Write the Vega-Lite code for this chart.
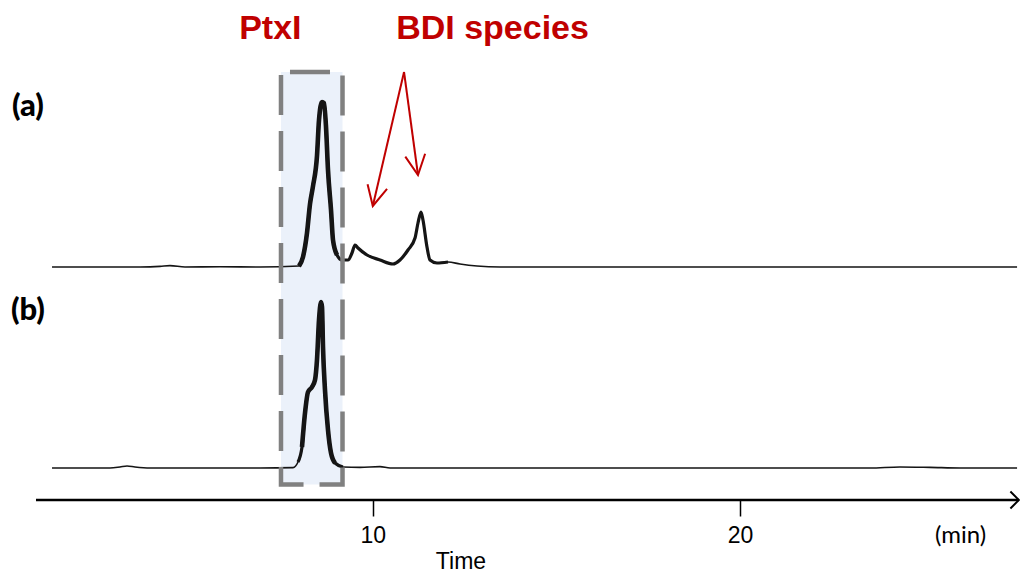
{
  "$schema": "https://vega.github.io/schema/vega-lite/v6.json",
  "width": 1020,
  "height": 575,
  "padding": 0,
  "autosize": {"type": "none"},
  "background": "white",
  "config": {"view": {"stroke": null}},
  "datasets": {
    "traces": [
      {"trace": "a", "time": 1.266, "signal": 100.5},
      {"trace": "a", "time": 2.573, "signal": 100.5},
      {"trace": "a", "time": 3.662, "signal": 100.5},
      {"trace": "a", "time": 4.206, "signal": 100.8},
      {"trace": "a", "time": 4.478, "signal": 101.2},
      {"trace": "a", "time": 4.887, "signal": 100.5},
      {"trace": "a", "time": 5.84, "signal": 100.6},
      {"trace": "a", "time": 6.929, "signal": 100.5},
      {"trace": "a", "time": 7.99, "signal": 101},
      {"trace": "a", "time": 8.099, "signal": 105.5},
      {"trace": "a", "time": 8.208, "signal": 117.5},
      {"trace": "a", "time": 8.29, "signal": 132},
      {"trace": "a", "time": 8.372, "signal": 141},
      {"trace": "a", "time": 8.48, "signal": 156},
      {"trace": "a", "time": 8.535, "signal": 174},
      {"trace": "a", "time": 8.617, "signal": 183},
      {"trace": "a", "time": 8.671, "signal": 182.5},
      {"trace": "a", "time": 8.726, "signal": 170.5},
      {"trace": "a", "time": 8.78, "signal": 149},
      {"trace": "a", "time": 8.862, "signal": 129},
      {"trace": "a", "time": 8.916, "signal": 114},
      {"trace": "a", "time": 9.025, "signal": 106.5},
      {"trace": "a", "time": 9.161, "signal": 104},
      {"trace": "a", "time": 9.324, "signal": 104},
      {"trace": "a", "time": 9.433, "signal": 107.5},
      {"trace": "a", "time": 9.515, "signal": 111.5},
      {"trace": "a", "time": 9.597, "signal": 110},
      {"trace": "a", "time": 9.842, "signal": 106.5},
      {"trace": "a", "time": 10.196, "signal": 104},
      {"trace": "a", "time": 10.55, "signal": 102},
      {"trace": "a", "time": 10.74, "signal": 104},
      {"trace": "a", "time": 10.958, "signal": 109},
      {"trace": "a", "time": 11.149, "signal": 115},
      {"trace": "a", "time": 11.23, "signal": 122.5},
      {"trace": "a", "time": 11.312, "signal": 128},
      {"trace": "a", "time": 11.366, "signal": 124},
      {"trace": "a", "time": 11.475, "signal": 110.5},
      {"trace": "a", "time": 11.557, "signal": 104},
      {"trace": "a", "time": 11.747, "signal": 102.5},
      {"trace": "a", "time": 12.047, "signal": 103},
      {"trace": "a", "time": 12.374, "signal": 102},
      {"trace": "a", "time": 12.837, "signal": 101},
      {"trace": "a", "time": 13.463, "signal": 100.5},
      {"trace": "a", "time": 18.9, "signal": 100.5},
      {"trace": "a", "time": 27.54, "signal": 100.5},
      {"trace": "b", "time": 1.266, "signal": 0},
      {"trace": "b", "time": 2.845, "signal": 0},
      {"trace": "b", "time": 3.117, "signal": 0.5},
      {"trace": "b", "time": 3.308, "signal": 1},
      {"trace": "b", "time": 3.525, "signal": 0.5},
      {"trace": "b", "time": 3.934, "signal": 0},
      {"trace": "b", "time": 6.929, "signal": 0},
      {"trace": "b", "time": 7.827, "signal": 0.2},
      {"trace": "b", "time": 7.963, "signal": 3},
      {"trace": "b", "time": 8.072, "signal": 10.5},
      {"trace": "b", "time": 8.154, "signal": 27.5},
      {"trace": "b", "time": 8.236, "signal": 38},
      {"trace": "b", "time": 8.344, "signal": 40.5},
      {"trace": "b", "time": 8.426, "signal": 44},
      {"trace": "b", "time": 8.48, "signal": 54},
      {"trace": "b", "time": 8.535, "signal": 74},
      {"trace": "b", "time": 8.59, "signal": 83},
      {"trace": "b", "time": 8.617, "signal": 80.5},
      {"trace": "b", "time": 8.644, "signal": 60.5},
      {"trace": "b", "time": 8.698, "signal": 39},
      {"trace": "b", "time": 8.78, "signal": 19},
      {"trace": "b", "time": 8.862, "signal": 7.5},
      {"trace": "b", "time": 8.971, "signal": 2.5},
      {"trace": "b", "time": 9.188, "signal": 0.5},
      {"trace": "b", "time": 9.651, "signal": 0.3},
      {"trace": "b", "time": 10.196, "signal": 0.7},
      {"trace": "b", "time": 10.47, "signal": 0},
      {"trace": "b", "time": 13.463, "signal": 0},
      {"trace": "b", "time": 23.536, "signal": 0},
      {"trace": "b", "time": 24.35, "signal": 0.5},
      {"trace": "b", "time": 25.17, "signal": 0.3},
      {"trace": "b", "time": 25.99, "signal": 0},
      {"trace": "b", "time": 27.54, "signal": 0}
    ],
    "box": [{"t1": 7.5, "t2": 9.175, "s1": -8.25, "s2": 198}],
    "timeAxis": [{"start": 0.83, "end": 27.59, "level": -16}],
    "arrows": [
      {"id": "left", "t1": 10.85, "s1": 198, "t2": 10.0, "s2": 131},
      {"id": "right", "t1": 10.85, "s1": 198, "t2": 11.23, "s2": 146.5}
    ],
    "labels": [
      {"kind": "title", "text": "PtxI", "time": 7.21, "signal": 214.5},
      {"kind": "title", "text": "BDI species", "time": 13.26, "signal": 214.5},
      {"kind": "panel", "text": "(a)", "time": 0.61, "signal": 176},
      {"kind": "panel", "text": "(b)", "time": 0.61, "signal": 74},
      {"kind": "unit", "text": "(min)", "time": 26.0, "signal": -37.5},
      {"kind": "axis", "text": "Time", "time": 12.4, "signal": -50.5}
    ]
  },
  "layer": [
    {
      "data": {"name": "box"},
      "mark": {"type": "rect", "fill": "#ebf1fa", "stroke": null},
      "encoding": {
        "x": {"field": "t1", "type": "quantitative", "scale": {"domain": [-0.15, 27.62], "nice": false, "zero": false},
          "axis": {"values": [10, 20], "domain": false, "grid": false, "ticks": true, "tickSize": 16, "tickWidth": 1.5, "tickColor": "#000000",
            "labelFont": "Liberation Sans", "labelFontSize": 23, "labelColor": "#000000", "labelPadding": 8, "title": null, "offset": -75}},
        "x2": {"field": "t2"},
        "y": {"field": "s1", "type": "quantitative", "scale": {"domain": [-53.5, 234], "nice": false, "zero": false}, "axis": null},
        "y2": {"field": "s2"}
      }
    },
    {
      "data": {"name": "traces"},
      "mark": {"type": "line", "color": "#151515", "strokeWidth": 1.6, "interpolate": "monotone"},
      "encoding": {
        "x": {"field": "time", "type": "quantitative"},
        "y": {"field": "signal", "type": "quantitative"},
        "detail": {"field": "trace"}
      }
    },
    {
      "data": {"name": "traces"},
      "transform": [{"filter": "(datum.trace == 'a' && datum.time >= 7.9 && datum.time <= 12.1) || (datum.trace == 'b' && datum.time >= 7.9 && datum.time <= 9.2)"}],
      "mark": {"type": "line", "color": "#151515", "strokeWidth": 3.2, "interpolate": "monotone"},
      "encoding": {
        "x": {"field": "time", "type": "quantitative"},
        "y": {"field": "signal", "type": "quantitative"},
        "detail": {"field": "trace"}
      }
    },
    {
      "data": {"name": "traces"},
      "transform": [{"filter": "datum.time >= 7.99 && datum.time <= 9.05"}],
      "mark": {"type": "line", "color": "#151515", "strokeWidth": 4.6, "interpolate": "monotone"},
      "encoding": {
        "x": {"field": "time", "type": "quantitative"},
        "y": {"field": "signal", "type": "quantitative"},
        "detail": {"field": "trace"}
      }
    },
    {
      "data": {"name": "box"},
      "mark": {"type": "rect", "fill": null, "fillOpacity": 0, "stroke": "#808080", "strokeWidth": 4.5, "strokeDash": [40, 16], "strokeDashOffset": 47},
      "encoding": {
        "x": {"field": "t1", "type": "quantitative"},
        "x2": {"field": "t2"},
        "y": {"field": "s2", "type": "quantitative"},
        "y2": {"field": "s1"}
      }
    },
    {
      "data": {"name": "timeAxis"},
      "mark": {"type": "rule", "color": "#000000", "strokeWidth": 2.5},
      "encoding": {
        "x": {"field": "start", "type": "quantitative"},
        "x2": {"field": "end"},
        "y": {"field": "level", "type": "quantitative"}
      }
    },
    {
      "data": {"name": "timeAxis"},
      "mark": {"type": "point", "shape": "M -1 -1 L 0 0 L -1 1", "filled": false, "stroke": "#000000", "strokeWidth": 2, "size": 289, "opacity": 1},
      "encoding": {
        "x": {"field": "end", "type": "quantitative"},
        "y": {"field": "level", "type": "quantitative"}
      }
    },
    {
      "data": {"name": "arrows"},
      "mark": {"type": "rule", "color": "#c00000", "strokeWidth": 2},
      "encoding": {
        "x": {"field": "t1", "type": "quantitative"},
        "y": {"field": "s1", "type": "quantitative"},
        "x2": {"field": "t2"},
        "y2": {"field": "s2"}
      }
    },
    {
      "data": {"name": "arrows"},
      "transform": [{"filter": "datum.id == 'left'"}],
      "mark": {"type": "point", "shape": "M -0.5 1 L 0 0 L 0.5 1", "filled": false, "stroke": "#c00000", "strokeWidth": 2, "size": 1600, "angle": 193, "opacity": 1},
      "encoding": {
        "x": {"field": "t2", "type": "quantitative"},
        "y": {"field": "s2", "type": "quantitative"}
      }
    },
    {
      "data": {"name": "arrows"},
      "transform": [{"filter": "datum.id == 'right'"}],
      "mark": {"type": "point", "shape": "M -0.5 1 L 0 0 L 0.5 1", "filled": false, "stroke": "#c00000", "strokeWidth": 2, "size": 1600, "angle": 172, "opacity": 1},
      "encoding": {
        "x": {"field": "t2", "type": "quantitative"},
        "y": {"field": "s2", "type": "quantitative"}
      }
    },
    {
      "data": {"name": "labels"},
      "transform": [{"filter": "datum.kind == 'title'"}],
      "mark": {"type": "text", "font": "Liberation Sans", "fontWeight": "bold", "fontSize": 34, "color": "#c00000", "align": "center", "baseline": "alphabetic"},
      "encoding": {
        "x": {"field": "time", "type": "quantitative"},
        "y": {"field": "signal", "type": "quantitative"},
        "text": {"field": "text"}
      }
    },
    {
      "data": {"name": "labels"},
      "transform": [{"filter": "datum.kind == 'panel'"}],
      "mark": {"type": "text", "font": "Lato", "fontWeight": 900, "fontSize": 31, "color": "#000000", "align": "center", "baseline": "alphabetic"},
      "encoding": {
        "x": {"field": "time", "type": "quantitative"},
        "y": {"field": "signal", "type": "quantitative"},
        "text": {"field": "text"}
      }
    },
    {
      "data": {"name": "labels"},
      "transform": [{"filter": "datum.kind == 'unit'"}],
      "mark": {"type": "text", "font": "Lato", "fontSize": 24, "color": "#000000", "align": "center", "baseline": "alphabetic"},
      "encoding": {
        "x": {"field": "time", "type": "quantitative"},
        "y": {"field": "signal", "type": "quantitative"},
        "text": {"field": "text"}
      }
    },
    {
      "data": {"name": "labels"},
      "transform": [{"filter": "datum.kind == 'axis'"}],
      "mark": {"type": "text", "font": "Liberation Sans", "fontSize": 23, "color": "#000000", "align": "center", "baseline": "alphabetic"},
      "encoding": {
        "x": {"field": "time", "type": "quantitative"},
        "y": {"field": "signal", "type": "quantitative"},
        "text": {"field": "text"}
      }
    }
  ]
}
